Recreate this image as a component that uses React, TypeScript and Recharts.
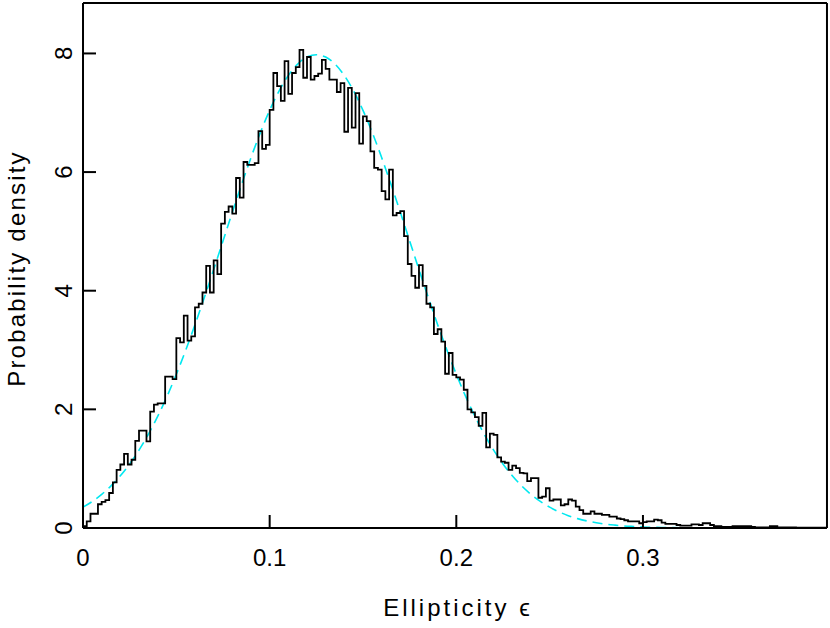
import React from 'react';
import { LineChart, Line, XAxis, YAxis, Label } from 'recharts';

// Histogram bin width (in ellipticity units)
const BIN_WIDTH = 0.002;

// Histogram heights, read bin by bin from the picture
const histRise = [
  0.03, 0.11, 0.24, 0.24, 0.40, 0.44, 0.47, 0.59, 0.77, 0.98,
  1.07, 1.25, 1.07, 1.15, 1.47, 1.64, 1.64, 1.46, 1.96, 2.08,
  2.10, 2.10, 2.55, 2.55, 2.51, 3.20, 3.13, 3.58, 3.16, 3.23,
  3.72, 3.78, 3.97, 4.42, 3.97, 4.51, 4.28, 5.13, 5.33, 5.42,
  5.30, 5.90, 5.57, 6.17, 6.12, 6.12, 6.15, 6.69, 6.39, 6.46,
];
const histPeak = [
  7.05, 7.67, 7.45, 7.20, 7.87, 7.32, 7.67, 7.77, 8.06, 7.59,
  7.94, 7.56, 7.62, 7.66, 7.89, 7.74, 7.56, 7.56, 7.35, 7.50,
  6.68, 7.42, 6.75, 7.33, 6.48, 6.94, 6.86, 6.35, 6.07, 6.04,
  5.68, 5.54, 6.04, 5.27, 5.31, 5.34, 4.92, 4.45, 4.25, 4.05,
  4.43, 4.08, 3.78, 3.72, 3.27, 3.35, 3.14, 2.60, 2.95, 2.58,
];
const histFall = [
  2.54, 2.50, 2.33, 2.00, 1.95, 1.87, 1.72, 1.94, 1.36, 1.59,
  1.57, 1.19, 1.12, 1.10, 0.98, 1.05, 1.01, 0.93, 0.92, 0.79,
  0.84, 0.84, 0.51, 0.53, 0.67, 0.46, 0.48, 0.48, 0.38, 0.40,
  0.48, 0.46, 0.36, 0.30, 0.24, 0.24, 0.28, 0.24, 0.24, 0.22,
  0.22, 0.19, 0.19, 0.16, 0.15, 0.13, 0.11, 0.11, 0.11, 0.08,
];
const histTail = [
  0.10, 0.11, 0.11, 0.14, 0.13, 0.09, 0.07, 0.07, 0.07, 0.05,
  0.04, 0.04, 0.04, 0.06, 0.06, 0.05, 0.08, 0.08, 0.05, 0.03,
  0.03, 0.02, 0.02, 0.02, 0.03, 0.03, 0.03, 0.03, 0.03, 0.02,
  0.01, 0.01, 0.01, 0.01, 0.03, 0.03, 0.01, 0.01, 0.01, 0.01,
  0.01, 0.005, 0.005, 0.005, 0.005, 0.005, 0.005, 0.005, 0.005, 0.0,
];

// Fitted curve (cyan dashed), sampled every 0.005
const FIT_STEP = 0.005;
const fitValues = [
  0.351, 0.448, 0.567, 0.710, 0.880, 1.080, 1.313, 1.579, 1.881, 2.218,
  2.591, 2.995, 3.428, 3.884, 4.357, 4.839, 5.322, 5.794, 6.245, 6.665,
  7.041, 7.366, 7.628, 7.821, 7.939, 7.979, 7.939, 7.821, 7.628, 7.366,
  7.041, 6.665, 6.245, 5.794, 5.322, 4.839, 4.357, 3.884, 3.428, 2.995,
  2.591, 2.218, 1.881, 1.579, 1.313, 1.080, 0.880, 0.710, 0.567, 0.448,
  0.351, 0.272, 0.208, 0.158, 0.119, 0.089, 0.065, 0.048, 0.034, 0.025,
  0.017, 0.012, 0.009, 0.006, 0.004, 0.003, 0.002, 0.001, 0.001, 0.0,
  0.0, 0.0, 0.0, 0.0, 0.0, 0.0, 0.0, 0.0, 0.0, 0.0, 0.0,
];

// Axes
const X_DOMAIN: [number, number] = [0, 0.3986];
const Y_DOMAIN: [number, number] = [0, 8.85];
const xMajorTicks = [0, 0.1, 0.2, 0.3];
const xTickLabels = ['0', '0.1', '0.2', '0.3'];
const xMinorTicks = [0.02, 0.04, 0.06, 0.08, 0.12, 0.14, 0.16, 0.18, 0.22, 0.24, 0.26, 0.28, 0.32, 0.34, 0.36, 0.38];
const yMajorTicks = [0, 2, 4, 6, 8];
const yTickLabels = ['0', '2', '4', '6', '8'];
const yMinorTicks = [1, 3, 5, 7];
const xTitle = 'Ellipticity \u03F5';
const yTitle = 'Probability density';

const histValues = [...histRise, ...histPeak, ...histFall, ...histTail];
const histData = histValues.map((v, i) => ({ eps: i * BIN_WIDTH, density: v }));
histData.push({ eps: histValues.length * BIN_WIDTH, density: 0 });
const fitData = fitValues.map((v, i) => ({ eps: i * FIT_STEP, fit: v }));

const FONT = '"Liberation Sans", "DejaVu Sans", Arial, sans-serif';
const FONT_SIZE = 24;
const MAJOR = -13;
const MINOR = -7;
const THIN = 0.01;
const AXIS_STROKE = { stroke: '#000', strokeWidth: 2 };

const XTick = (props: any) => {
  const { x, y, payload } = props;
  const idx = xMajorTicks.indexOf(payload.value);
  const label = idx >= 0 ? xTickLabels[idx] : String(payload.value);
  return (
    <text x={x} y={y} textAnchor="middle" fontFamily={FONT} fontSize={FONT_SIZE} fill="#000">
      {label}
    </text>
  );
};

const YTick = (props: any) => {
  const { x, y, payload } = props;
  const idx = yMajorTicks.indexOf(payload.value);
  const label = idx >= 0 ? yTickLabels[idx] : String(payload.value);
  return (
    <text
      x={x}
      y={y}
      transform={`rotate(-90, ${x}, ${y})`}
      textAnchor="middle"
      fontFamily={FONT}
      fontSize={FONT_SIZE}
      fill="#000"
    >
      {label}
    </text>
  );
};

const XTitle = (props: any) => {
  const vb = props.viewBox || {};
  const cx = vb.x + vb.width / 2 + 3;
  const cy = 616;
  return (
    <text x={cx} y={cy} textAnchor="middle" fontFamily={FONT} fontSize={FONT_SIZE} letterSpacing={3} fill="#000">
      {xTitle}
    </text>
  );
};

const YTitle = (props: any) => {
  const vb = props.viewBox || {};
  const cx = 25;
  const cy = vb.y + vb.height / 2 + 3;
  return (
    <text
      x={cx}
      y={cy}
      transform={`rotate(-90, ${cx}, ${cy})`}
      textAnchor="middle"
      fontFamily={FONT}
      fontSize={FONT_SIZE}
      letterSpacing={2.2}
      fill="#000"
    >
      {yTitle}
    </text>
  );
};

export default function App() {
  return (
    <div style={{ position: 'absolute', left: 0, top: 0, width: 830, height: 628, background: '#fff' }}>
      <LineChart width={830} height={628} margin={{ top: 3, right: 3, bottom: 100, left: 83 }}>
        {/* bottom axis with labels and major ticks */}
        <XAxis
          xAxisId="main"
          dataKey="eps"
          type="number"
          domain={X_DOMAIN}
          allowDataOverflow
          ticks={xMajorTicks}
          interval={0}
          height={THIN}
          orientation="bottom"
          tickSize={MAJOR}
          tickMargin={MAJOR * -1 + 38}
          tickLine={AXIS_STROKE}
          axisLine={AXIS_STROKE}
          tick={<XTick />}
        >
          <Label content={<XTitle />} />
        </XAxis>
        <XAxis
          xAxisId="bminor"
          dataKey="eps"
          type="number"
          domain={X_DOMAIN}
          allowDataOverflow
          ticks={xMinorTicks}
          interval={0}
          height={THIN}
          orientation="bottom"
          tickSize={MINOR}
          tickLine={AXIS_STROKE}
          axisLine={false}
          tick={false}
        />
        <XAxis
          xAxisId="top"
          dataKey="eps"
          type="number"
          domain={X_DOMAIN}
          allowDataOverflow
          ticks={xMajorTicks}
          interval={0}
          height={THIN}
          orientation="top"
          tickSize={MAJOR}
          tickLine={AXIS_STROKE}
          axisLine={AXIS_STROKE}
          tick={false}
        />
        <XAxis
          xAxisId="tminor"
          dataKey="eps"
          type="number"
          domain={X_DOMAIN}
          allowDataOverflow
          ticks={xMinorTicks}
          interval={0}
          height={THIN}
          orientation="top"
          tickSize={MINOR}
          tickLine={AXIS_STROKE}
          axisLine={false}
          tick={false}
        />
        {/* left axis with labels and major ticks */}
        <YAxis
          yAxisId="main"
          type="number"
          domain={Y_DOMAIN}
          allowDataOverflow
          ticks={yMajorTicks}
          interval={0}
          width={THIN}
          orientation="left"
          tickSize={MAJOR}
          tickMargin={MAJOR * -1 + 11}
          tickLine={AXIS_STROKE}
          axisLine={AXIS_STROKE}
          tick={<YTick />}
        >
          <Label content={<YTitle />} />
        </YAxis>
        <YAxis
          yAxisId="lminor"
          type="number"
          domain={Y_DOMAIN}
          allowDataOverflow
          ticks={yMinorTicks}
          interval={0}
          width={THIN}
          orientation="left"
          tickSize={MINOR}
          tickLine={AXIS_STROKE}
          axisLine={false}
          tick={false}
        />
        <YAxis
          yAxisId="right"
          type="number"
          domain={Y_DOMAIN}
          allowDataOverflow
          ticks={yMajorTicks}
          interval={0}
          width={THIN}
          orientation="right"
          tickSize={MAJOR}
          tickLine={AXIS_STROKE}
          axisLine={AXIS_STROKE}
          tick={false}
        />
        <YAxis
          yAxisId="rminor"
          type="number"
          domain={Y_DOMAIN}
          allowDataOverflow
          ticks={yMinorTicks}
          interval={0}
          width={THIN}
          orientation="right"
          tickSize={MINOR}
          tickLine={AXIS_STROKE}
          axisLine={false}
          tick={false}
        />
        <Line
          xAxisId="main"
          yAxisId="main"
          data={fitData}
          dataKey="fit"
          type="monotone"
          stroke="#00E8F0"
          strokeWidth={1.6}
          strokeDasharray="10 6"
          dot={false}
          activeDot={false}
          isAnimationActive={false}
        />
        <Line
          xAxisId="main"
          yAxisId="main"
          data={histData}
          dataKey="density"
          type="stepAfter"
          stroke="#000"
          strokeWidth={1.8}
          dot={false}
          activeDot={false}
          isAnimationActive={false}
        />
      </LineChart>
    </div>
  );
}
